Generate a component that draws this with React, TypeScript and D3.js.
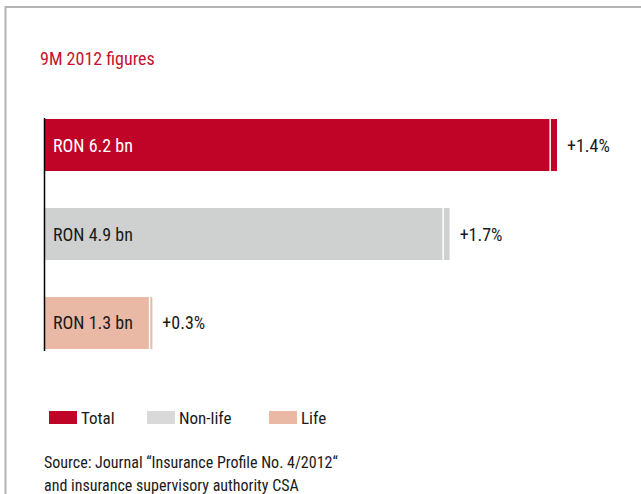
import React from "react";
import * as d3 from "d3";

const categories = ["Total", "Non-life", "Life"];
const values = [6.2, 4.9, 1.3];
const growthPct = [1.4, 1.7, 0.3];
const valueLabels = ["RON 6.2 bn", "RON 4.9 bn", "RON 1.3 bn"];
const growthLabels = ["+1.4%", "+1.7%", "+0.3%"];
const colors = ["#c00427", "#cfd1d0", "#e9b9a5"];
const legendColors = ["#c00427", "#d9d9d9", "#e9b9a5"];
const textColors = ["#ffffff", "#1a1a1a", "#1a1a1a"];
const title = "9M 2012 figures";
const sourceLines = [
  "Source: Journal \u201cInsurance Profile No. 4/2012\u201c",
  "and insurance supervisory authority CSA",
];

const W = 641;
const H = 494;
const FONT = "'Liberation Sans Narrow', 'Roboto Condensed', 'Arial Narrow', 'Liberation Sans', sans-serif";

export default function App() {
  const x = d3.scaleLinear().domain([0, 6.2]).range([45, 557]);
  const y = d3
    .scaleBand<string>()
    .domain(categories)
    .range([119, 349])
    .paddingInner(0.4157)
    .paddingOuter(0);
  const bw = y.bandwidth();

  const legendX = [49, 147, 269];

  return (
    <svg
      width={W}
      height={H}
      style={{ position: "absolute", left: 0, top: 0, background: "#fff" }}
      fontFamily={FONT}
    >
      {/* frame */}
      <line x1={5.5} y1={7} x2={W} y2={7} stroke="#b4b4b4" strokeWidth={2} />
      <line x1={5.5} y1={6} x2={5.5} y2={H} stroke="#b4b4b4" strokeWidth={2} />

      <text x={40} y={65} fill="#c8102e" fontSize={18}>
        {title}
      </text>

      {categories.map((c, i) => {
        const y0 = y(c)!;
        const prev = values[i] / (1 + growthPct[i] / 100);
        const xEnd = x(values[i]);
        const stripStart = Math.min(x(prev) + 1, xEnd - 2);
        const mainEnd = stripStart - 1.5;
        return (
          <g key={c}>
            <rect x={x(0)} y={y0} width={mainEnd - x(0)} height={bw} fill={colors[i]} />
            <rect x={stripStart} y={y0} width={xEnd - stripStart} height={bw} fill={colors[i]} />
            <text
              x={x(0) + 8}
              y={y0 + bw / 2 + 6.5}
              fill={textColors[i]}
              fontSize={18}
            >
              {valueLabels[i]}
            </text>
            <text x={xEnd + 10} y={y0 + bw / 2 + 6.5} fill="#1a1a1a" fontSize={18}>
              {growthLabels[i]}
            </text>
          </g>
        );
      })}

      {/* axis line */}
      <line x1={44.5} y1={118} x2={44.5} y2={351} stroke="#000" strokeWidth={1.5} />

      {/* legend */}
      {categories.map((c, i) => (
        <g key={"lg" + c}>
          <rect x={legendX[i]} y={411} width={28} height={13} fill={legendColors[i]} />
          <text x={legendX[i] + 32} y={424} fontSize={17} fill="#1a1a1a">
            {c}
          </text>
        </g>
      ))}

      {sourceLines.map((s, i) => (
        <text key={i} x={44} y={468 + i * 23} fontSize={16} fill="#1a1a1a">
          {s}
        </text>
      ))}
    </svg>
  );
}
